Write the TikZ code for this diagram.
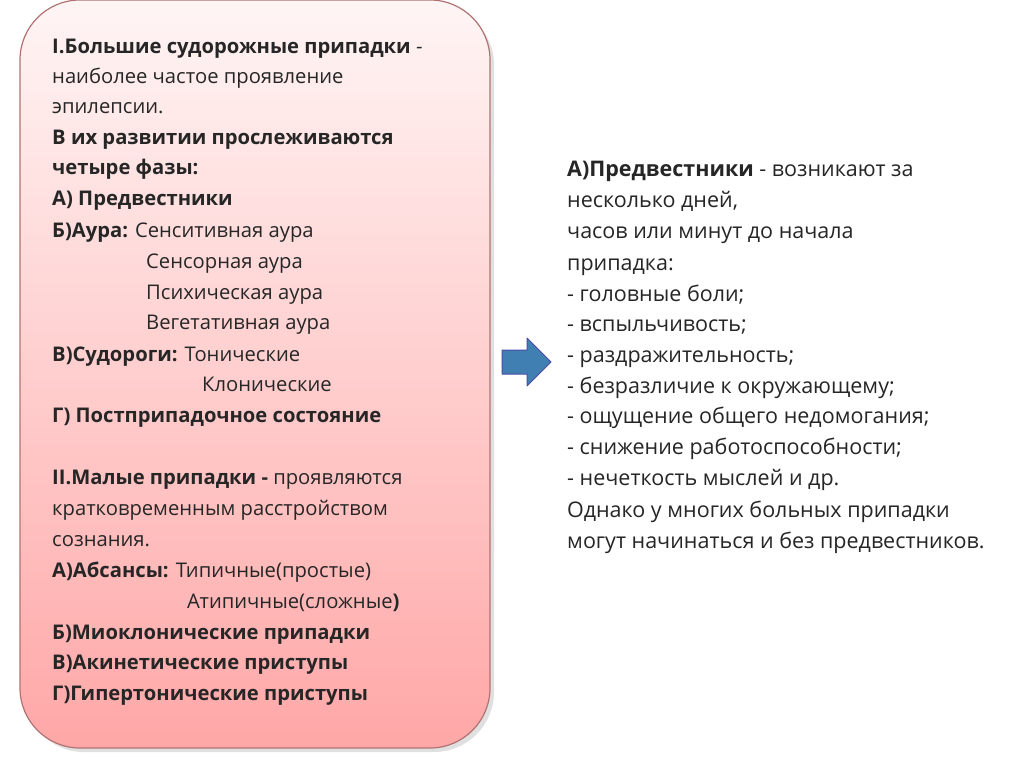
\documentclass[tikz,border=0pt]{standalone}
\usepackage{fontspec}
\setmainfont{Open Sans}
\begin{document}
\begin{tikzpicture}[x=1pt,y=-1pt,
  ln/.style={anchor=base west,inner sep=0pt,yshift=-7pt,font=\fontsize{20.2}{24}\selectfont,text=black!85},
  rn/.style={ln,font=\fontsize{21.5}{24}\selectfont}]
\useasboundingbox (0,0) rectangle (1024,767);
\fill[white] (0,0) rectangle (1024,767);
\fill[black!12,rounded corners=60] (24,5) rectangle (494,752);
\shade[top color=red!4,bottom color=red!35!white!95!pink,draw=red!45!black!55,line width=1.2pt,rounded corners=60]
  (20,0) rectangle (490,748);
\node[ln] (l1) at (52,47) {\textbf{I.Большие судорожные припадки} -};
\node[ln] (l2) at (52,77) {наиболее частое проявление};
\node[ln] (l3) at (52,107) {эпилепсии.};
\node[ln] (l4) at (52,138) {\textbf{В их развитии прослеживаются}};
\node[ln] (l5) at (52,168) {\textbf{четыре фазы:}};
\node[ln] (l6) at (52,199) {\textbf{А) Предвестники}};
\node[ln] (l7) at (52,230) {\textbf{Б)Аура:} Сенситивная аура};
\node[ln] (l8) at (146,261) {Сенсорная аура};
\node[ln] (l9) at (146,292) {Психическая аура};
\node[ln] (l10) at (146,322) {Вегетативная аура};
\node[ln] (l11) at (52,354) {\textbf{В)Судороги:} Тонические};
\node[ln] (l12) at (202,384) {Клонические};
\node[ln] (l13) at (52,415) {\textbf{Г) Постприпадочное состояние}};
\node[ln] (l14) at (52,477) {\textbf{II.Малые припадки -} проявляются};
\node[ln] (l15) at (52,508) {кратковременным расстройством};
\node[ln] (l16) at (52,539) {сознания.};
\node[ln] (l17) at (52,570) {\textbf{А)Абсансы:} Типичные(простые)};
\node[ln] (l18) at (187,601) {Атипичные(сложные\textbf{)}};
\node[ln] (l19) at (52,632) {\textbf{Б)Миоклонические припадки}};
\node[ln] (l20) at (52,662) {\textbf{В)Акинетические приступы}};
\node[ln] (l21) at (52,693) {\textbf{Г)Гипертонические приступы}};
\draw[fill=blue!45!cyan!60!black!75,draw=blue!50!black!70,line width=1pt,line join=round]
  (502,350) -- (527,350) -- (527,338) -- (551,362) -- (527,386) -- (527,374) -- (502,374) -- cycle;
\node[rn] (r1) at (567,170) {\textbf{А)Предвестники} - возникают за};
\node[rn] (r2) at (567,201) {несколько дней,};
\node[rn] (r3) at (567,232) {часов или минут до начала};
\node[rn] (r4) at (567,263) {припадка:};
\node[rn] (r5) at (567,294) {- головные боли;};
\node[rn] (r6) at (567,324) {- вспыльчивость;};
\node[rn] (r7) at (567,355) {- раздражительность;};
\node[rn] (r8) at (567,386) {- безразличие к окружающему;};
\node[rn] (r9) at (567,416) {- ощущение общего недомогания;};
\node[rn] (r10) at (567,447) {- снижение работоспособности;};
\node[rn] (r11) at (567,478) {- нечеткость мыслей и др.};
\node[rn] (r12) at (567,510) {Однако у многих больных припадки};
\node[rn] (r13) at (567,541) {могут начинаться и без предвестников.};
\end{tikzpicture}
\end{document}
